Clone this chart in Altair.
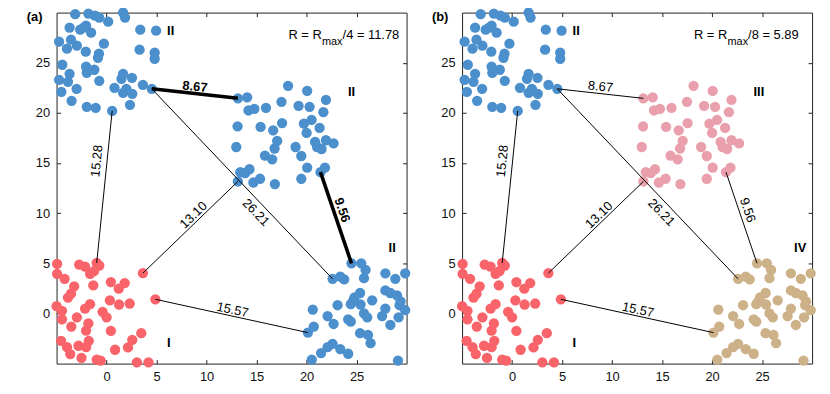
import altair as alt
import pandas as pd

FONT = "Liberation Sans"

# ---- cluster I (lower left) ----
c1_x = [-4.95, -2.74, -2.15, -0.99, -0.73, -1.65, -1.26, -4.95, -4.2, -3.24, -3.56, -3.86, -1.33, 0.43, 1.81, 1.22,
        3.63, 4.88, 0.33, 1.25, 2.31, -5.0, -4.46, -4.46, -2.15, -1.65, -2.97, -0.4, 0.0, -3.53, -1.82, -2.05, 0.43,
        -4.55, -3.96, -3.63, -2.81, -2.05, -1.78, -2.51, -0.99, -0.59, 0.85, 2.14, 2.57, 3.47, 3.03, 4.19]
c1_y = [4.94, 4.87, 4.67, 5.03, 4.77, 3.95, 4.21, 3.95, 3.45, 2.7, 1.97, 1.58, 2.8, 3.13, 3.03, 2.47,
        4.02, 1.41, 1.31, 0.89, 0.99, 0.72, 0.26, -0.59, 0.49, 0.92, -0.39, 0.16, -0.39, -1.31, -0.99, -1.71, -1.74,
        -2.73, -3.36, -4.05, -3.22, -3.36, -2.73, -4.44, -4.6, -4.7, -3.62, -3.39, -2.63, -1.97, -4.87, -4.87]

# ---- cluster II (upper left) ----
c2_x = [-3.14, -1.82, -1.16, -0.73, 0.16, 1.65, 1.85, -3.7, -2.64, -2.05, -1.55, -2.3, 3.37, 4.95, -4.75, -3.56,
        -2.97, -3.96, -0.27, -2.08, -0.76, -0.86, 3.3, 4.81, 4.81, -4.43, -2.05, -1.23, -1.98, -3.7, -4.75, -3.86,
        -0.73, 1.65, 1.49, 2.54, 3.63, 4.52, -4.52, -3.0, 0.79, 1.98, 1.65, 2.57, -3.5, -1.98, -1.09, 0.56, 2.34]
c2_y = [29.84, 29.9, 29.7, 29.5, 29.1, 30.0, 29.5, 28.5, 28.3, 28.7, 28.0, 28.5, 28.3, 28.2, 27.1, 27.3,
        26.7, 26.4, 26.9, 26.1, 25.9, 25.5, 26.3, 26.0, 25.4, 24.8, 24.6, 24.3, 24.0, 23.9, 23.3, 23.1,
        23.2, 23.9, 23.4, 23.5, 22.8, 22.4, 22.1, 22.4, 22.5, 22.4, 22.0, 21.9, 21.2, 20.6, 20.5, 20.2, 20.8]

# ---- cluster III (upper right) ----
c3_x = [13.13, 14.06, 14.19, 14.78, 15.94, 18.15, 17.49, 20.06, 19.2, 20.3, 21.94, 21.68, 13.1, 15.4, 16.66,
        17.55, 19.73, 20.5, 20.0, 21.3, 12.97, 17.06, 16.8, 18.9, 20.85, 21.05, 21.94, 22.7, 21.5, 15.84,
        16.56, 19.47, 13.37, 14.29, 13.13, 14.68, 15.35, 16.83, 19.47, 20.06, 21.39, 21.84, 13.86]
c3_y = [21.45, 21.55, 20.24, 20.4, 20.5, 22.7, 21.1, 22.2, 20.7, 20.6, 21.3, 20.07, 18.66, 18.6, 18.26,
        18.98, 18.92, 19.3, 18.0, 18.5, 16.6, 17.2, 16.45, 16.6, 17.1, 16.6, 17.27, 16.95, 16.4, 15.73,
        15.37, 15.7, 14.09, 14.38, 13.16, 13.06, 13.43, 12.9, 13.43, 14.54, 14.09, 14.54, 13.99]

# ---- cluster IV (lower right) ----
c4_x = [24.49, 25.47, 25.9, 25.74, 22.6, 23.37, 23.76, 27.88, 28.87, 29.86, 25.35, 27.88, 28.38, 29.04, 24.68,
        26.56, 23.1, 24.42, 25.4, 29.3, 29.86, 27.88, 20.62, 25.74, 26.07, 22.1, 24.16, 27.55, 29.2, 22.7,
        24.42, 28.38, 20.72, 20.13, 25.35, 26.14, 26.4, 22.6, 22.1, 23.37, 21.45, 24.16, 20.52, 29.14, 29.4, 24.8]
c4_y = [5.0, 5.0, 4.34, 3.52, 3.45, 3.68, 3.39, 4.0, 3.45, 4.0, 2.04, 2.3, 2.04, 1.81, 1.31,
        1.31, 0.82, 0.92, 0.89, 0.82, 0.33, 0.49, 0.39, 0.0, -0.39, -0.26, -0.59, -0.26, -0.39, -1.05,
        -0.82, -1.15, -1.31, -1.91, -1.97, -2.14, -2.96, -3.03, -3.36, -3.55, -3.95, -4.02, -4.6, -4.7, 1.2, 1.6]

# ---- connecting distances ----
line_x1 = [-0.99, 4.52, 4.52, 3.63, 21.39, 4.88]
line_y1 = [5.03, 22.4, 22.4, 4.02, 14.09, 1.41]
line_x2 = [0.56, 13.13, 22.6, 13.13, 24.49, 20.13]
line_y2 = [20.2, 21.45, 3.45, 13.16, 5.0, -1.91]
line_labels = ["15.28", "8.67", "26.21", "13.10", "9.56", "15.57"]
label_x = [-0.96, 8.84, 14.93, 8.7, 23.55, 12.6]
label_y = [15.2, 22.6, 10.07, 9.8, 10.3, 0.35]
label_angle = [276, 6, 46, 316, 71, 12]
thick_in_a = [False, True, False, False, True, False]

# ---- cluster names ----
names_a = ["II", "II", "II", "I"]
names_b = ["II", "III", "IV", "I"]
name_x = [6.05, 24.14, 28.2, 6.05]
name_y = [28.2, 22.1, 6.55, -3.0]

# ---- radius annotation ----
r_text_a = ["R = R", "max", "/4 = 11.78"]
r_text_b = ["R = R", "max", "/8 = 5.89"]
r_x = 23.6
r_y = 27.4

# ---- panel tags ----
tag_x = -7.2
tag_y = 29.6

groups = ["I", "II", "III", "IV"]
colors_a = ["#F9636A", "#4B8FCD", "#4B8FCD", "#4B8FCD"]
colors_b = ["#F9636A", "#4B8FCD", "#E9A0AC", "#CDB189"]

X_TICKS = [0, 5, 10, 15, 20, 25]
Y_TICKS = [0, 5, 10, 15, 20, 25]

rows = []
for g, xs, ys in zip(groups, [c1_x, c2_x, c3_x, c4_x], [c1_y, c2_y, c3_y, c4_y]):
    for a, b in zip(xs, ys):
        rows.append({"x": a, "y": b, "group": g})
pts_df = pd.DataFrame(rows)


def ax(orient, labels):
    return alt.Axis(orient=orient, values=X_TICKS, labels=labels, offset=-4, tickSize=4,
                    domain=False, grid=False, ticks=True, tickColor="#222", tickWidth=1,
                    labelFontSize=13, labelColor="#111", labelFont=FONT, labelPadding=7,
                    title=None)


def panel(colors, names, thick, tag, rtexts):
    sx = alt.Scale(domain=[-5, 30], nice=False, zero=False)
    sy = alt.Scale(domain=[-5, 30], nice=False, zero=False)

    points = alt.Chart(pts_df).mark_circle(size=108, opacity=1).encode(
        x=alt.X("x:Q", scale=sx, axis=ax("bottom", True)),
        y=alt.Y("y:Q", scale=sy, axis=ax("left", True)),
        color=alt.Color("group:N", scale=alt.Scale(domain=groups, range=colors), legend=None),
    )

    ldf = pd.DataFrame({"x1": line_x1, "y1": line_y1, "x2": line_x2, "y2": line_y2,
                        "lab": line_labels, "lx": label_x, "ly": label_y,
                        "ang": label_angle, "thick": thick})

    lines = alt.Chart(ldf).mark_rule(color="black").encode(
        x=alt.X("x1:Q", scale=sx, axis=ax("top", False)),
        y=alt.Y("y1:Q", scale=sy, axis=ax("right", False)),
        x2="x2:Q", y2="y2:Q",
        strokeWidth=alt.condition("datum.thick", alt.value(3.6), alt.value(1)),
    )

    def lab_layer(bold):
        return alt.Chart(ldf).transform_filter(
            "datum.thick" if bold else "!datum.thick"
        ).mark_text(font=FONT, fontSize=13, fontWeight="bold" if bold else "normal",
                    color="black", align="center", baseline="middle").encode(
            x=alt.X("lx:Q", scale=sx, axis=None),
            y=alt.Y("ly:Q", scale=sy, axis=None),
            text="lab:N",
            angle=alt.Angle("ang:Q", scale=None),
        )

    ndf = pd.DataFrame({"x": name_x, "y": name_y, "t": names})
    name_layer = alt.Chart(ndf).mark_text(font=FONT, fontSize=13, fontWeight="bold", color="black",
                                          align="left", baseline="middle").encode(
        x=alt.X("x:Q", scale=sx, axis=None), y=alt.Y("y:Q", scale=sy, axis=None), text="t:N")

    rdf = pd.DataFrame({"x": [r_x], "y": [r_y], "a": [rtexts[0]], "b": [rtexts[1]], "c": [rtexts[2]]})
    r1 = alt.Chart(rdf).mark_text(font=FONT, fontSize=13, color="black", align="right",
                                  baseline="alphabetic", dx=-21).encode(
        x=alt.X("x:Q", scale=sx, axis=None), y=alt.Y("y:Q", scale=sy, axis=None), text="a:N")
    r2 = alt.Chart(rdf).mark_text(font=FONT, fontSize=11, color="black", align="right",
                                  baseline="alphabetic", dy=6).encode(
        x=alt.X("x:Q", scale=sx, axis=None), y=alt.Y("y:Q", scale=sy, axis=None), text="b:N")
    r3 = alt.Chart(rdf).mark_text(font=FONT, fontSize=13, color="black", align="left",
                                  baseline="alphabetic").encode(
        x=alt.X("x:Q", scale=sx, axis=None), y=alt.Y("y:Q", scale=sy, axis=None), text="c:N")

    tdf = pd.DataFrame({"x": [tag_x], "y": [tag_y], "t": [tag]})
    tag_layer = alt.Chart(tdf).mark_text(font=FONT, fontSize=13, fontWeight="bold", color="black",
                                         align="center", baseline="middle").encode(
        x=alt.X("x:Q", scale=sx, axis=None), y=alt.Y("y:Q", scale=sy, axis=None), text="t:N")

    layers = [points, lines, lab_layer(False)]
    if any(thick):
        layers.append(lab_layer(True))
    layers += [name_layer, r1, r2, r3, tag_layer]
    return alt.layer(*layers).resolve_axis(x="independent", y="independent").properties(
        width=353, height=354)


pa = panel(colors_a, names_a, thick_in_a, "(a)", r_text_a)
pb = panel(colors_b, names_b, [False] * 6, "(b)", r_text_b)

chart = alt.hconcat(pa, pb, spacing=20).resolve_scale(
    x="independent", y="independent", color="independent"
).properties(
    padding={"left": 18, "top": -3, "right": 5, "bottom": 5}
).configure_view(stroke="#222", strokeWidth=1)

chart.save("out.html", embed_options={"renderer": "svg", "actions": False})
